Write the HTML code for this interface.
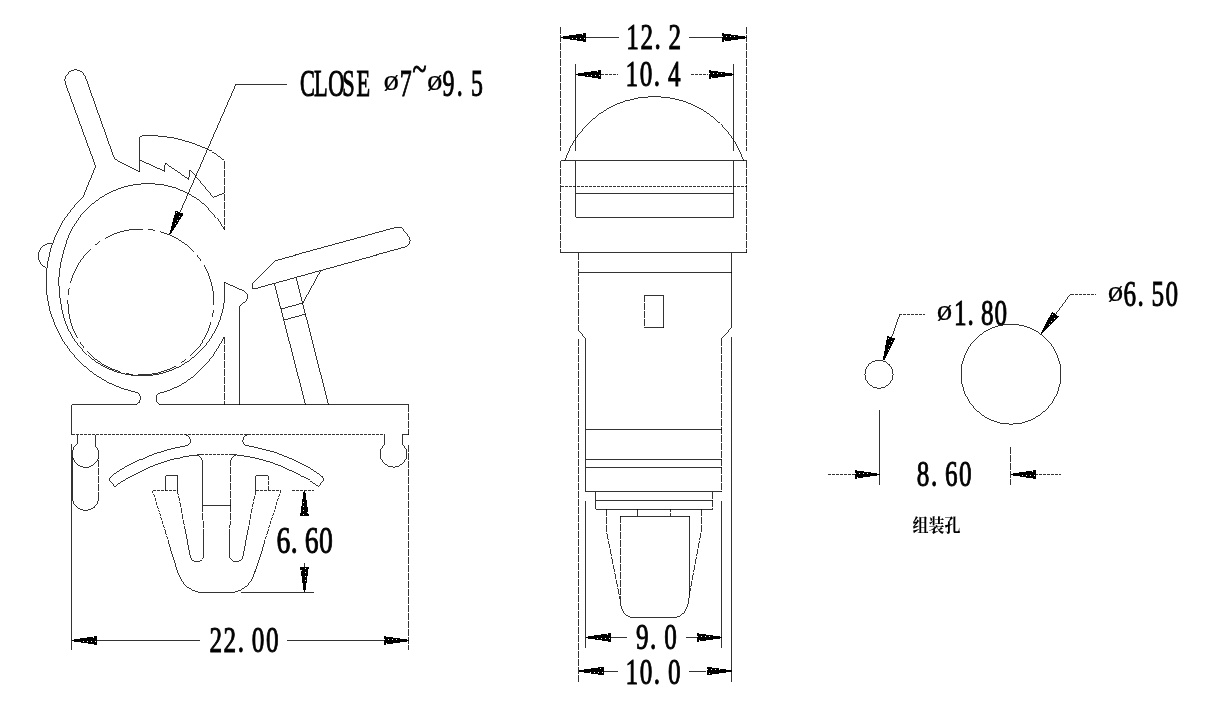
<!DOCTYPE html>
<html><head><meta charset="utf-8"><title>drawing</title>
<style>
html,body{margin:0;padding:0;background:#fff}
svg{display:block}
path,circle{fill:none;stroke:#000;stroke-width:.8}
path.a{fill:#000;stroke:none}
.w{fill:#fff;stroke:none}
.t{font-family:"Liberation Serif",serif;fill:#000;stroke:#000;stroke-width:.85px;vector-effect:non-scaling-stroke}
.p{stroke-width:.2px}
.c{font-family:"Noto Serif CJK SC","Noto Sans CJK SC",serif;font-weight:700;fill:#000}
</style></head><body>
<svg style="filter:grayscale(1)" width="1215" height="711" viewBox="0 0 1215 711" shape-rendering="crispEdges">
<rect width="1215" height="711" fill="#fff" stroke="none"/>
<path d="M71.5 404.5L136.5 404.5"/>
<path d="M159.3 404.5L408.9 404.5"/>
<path d="M71.5 404.5L71.5 434.6"/>
<path d="M71.5 434.5L384.7 434.5" stroke-dasharray="3 1"/>
<path d="M402.4 434.5L408.9 434.5"/>
<path d="M408.5 404.5L408.5 435" stroke-dasharray="7 1"/>
<path d="M408.5 444.5L408.5 650" stroke-dasharray="7 1"/>
<path d="M71.5 444L71.5 650"/>
<path d="M137 392.6Q140.5 393.3 140 398.5Q139.8 403.5 136.3 404.5"/>
<path d="M159.5 404.5Q155.5 402.5 156 398.3Q156.5 394.3 158.5 393.3"/>
<path d="M83 197.1A113.88 113.88 0 0 0 137 392.6"/>
<path d="M51.9 243.6A12.5 12.5 0 0 0 46.4 267.8"/>
<path d="M83 197.1L95.6 166.3L65.5 83.9A10.5 10.5 0 0 1 85.3 76.7L113.4 156Q114.3 158.9 116.8 160.2L139.5 171.6L139.5 136.5"/>
<path d="M139.5 136.5L143.4 135.5"/>
<path d="M143.4 135.5C145.83 135.58 152.88 135.57 158 136C163.12 136.43 168.6 136.98 174.1 138.1C179.6 139.22 185.57 140.9 191 142.7C196.43 144.5 202.53 146.97 206.7 148.9C210.87 150.83 213.17 152.45 216 154.3C218.83 156.15 222.28 158.8 223.7 160C225.12 161.2 224.37 161.25 224.5 161.5"/>
<path d="M224.5 161.5L224.5 229.5" stroke-dasharray="7 1"/>
<path d="M139.5 160.3L164.4 171.6L165.2 163L188.6 179.3L190.1 169.6L213.3 197.3L224.5 192.9"/>
<path d="M224.5 229.5L224.46 229.52A86.41 86.41 0 0 0 63.8 250.81A108.45 108.45 0 0 0 61.57 307.79A81.28 81.28 0 0 0 198.3 353A84.41 84.41 0 0 0 224.4 282.3"/>
<path d="M158.5 393.3C160.1 392.88 164.02 392.4 168.1 390.8C172.18 389.2 179.1 385.93 183 383.7C186.9 381.47 188.67 379.62 191.5 377.4C194.33 375.18 196.55 373.85 200 370.4C203.45 366.95 208.13 362.32 212.2 356.7C216.27 351.08 222.37 340.03 224.4 336.7"/>
<path d="M224.5 336.7L224.5 404.5" stroke-dasharray="7 1"/>
<path d="M224.4 282.3L243 290.6Q248.5 293.5 247.4 298Q246.3 302 243 303.3Q239.5 304.8 239.5 308L239.5 404.5"/>
<circle cx="140.9" cy="302" r="73" stroke-dasharray="40 5 7 5" stroke-dashoffset="36.5"/>
<path d="M254.5 288.6L252 288.4L252 284.3L275.5 260.4L393 228.2Q400.5 226 402.8 229L408.9 236.7Q412.5 243.5 405.9 246.7Z"/>
<path d="M274.6 283.5L305.7 404.5"/>
<path d="M296.2 278L328.4 404.5"/>
<path d="M281.2 309L302.9 303"/>
<path d="M284.4 320L305.6 314"/>
<path d="M320.7 270.6L302.9 302.8"/>
<path d="M77.5 434.6L77.5 443.3Q72.5 447 72.5 452L72.5 498A13.05 12.5 0 0 0 98.6 498"/>
<path d="M95.5 434.6L95.5 446Q98.6 448 98.6 452"/>
<path d="M98.5 452L98.5 498" stroke-dasharray="7 1"/>
<path d="M72.8 457.4A13.2 13.2 0 0 0 98.3 458"/>
<path d="M384.5 434.6L384.5 443.5A13.5 13.5 0 1 0 402.5 443.5L402.5 434.6"/>
<path d="M185.2 434.6C185.97 435.17 189.18 436.33 189.8 438C190.42 439.67 190.78 443.08 188.9 444.6C187.02 446.12 182.7 446.03 178.5 447.1C174.3 448.17 168.63 449.52 163.7 451C158.77 452.48 153.83 454.1 148.9 456C143.97 457.9 139.03 459.97 134.1 462.4C129.17 464.83 123.25 468.13 119.3 470.6C115.35 473.07 111.88 476.1 110.4 477.2"/>
<path d="M110.4 477.2L109.4 479.8L114.8 486.6"/>
<path d="M114.8 486.6C116.78 485.28 121.02 481.87 126.7 478.7C132.38 475.53 142.73 470.38 148.9 467.6C155.07 464.82 158.77 463.6 163.7 462C168.63 460.4 173.57 459.1 178.5 458C183.43 456.9 189.55 455.95 193.3 455.4C197.05 454.85 199.72 454.82 201 454.7"/>
<path d="M248 434.6C247.23 435.17 244.02 436.33 243.4 438C242.78 439.67 242.42 443.08 244.3 444.6C246.18 446.12 250.5 446.03 254.7 447.1C258.9 448.17 264.57 449.52 269.5 451C274.43 452.48 279.37 454.1 284.3 456C289.23 457.9 294.17 459.97 299.1 462.4C304.03 464.83 309.95 468.13 313.9 470.6C317.85 473.07 321.32 476.1 322.8 477.2"/>
<path d="M322.8 477.2L323.8 479.8L318.4 486.6"/>
<path d="M318.4 486.6C316.42 485.28 312.18 481.87 306.5 478.7C300.82 475.53 290.47 470.38 284.3 467.6C278.13 464.82 274.43 463.6 269.5 462C264.57 460.4 259.63 459.1 254.7 458C249.77 456.9 243.65 455.95 239.9 455.4C236.15 454.85 233.48 454.82 232.2 454.7"/>
<path d="M201 454.5L232.2 454.5" stroke-dasharray="3 1"/>
<path d="M197 455.3Q202 456.5 202.5 462L202.5 505.5L230.5 505.5"/>
<path d="M230.5 505.5L230.5 462" stroke-dasharray="7 1"/>
<path d="M230.5 462Q231.2 456.5 236.2 455.3"/>
<path d="M177.6 490.5L185.2 530" stroke-dasharray="5 1"/>
<path d="M202.5 505.5L203.3 530" stroke-dasharray="7 1"/>
<path d="M203.3 530L204 554A7 7.5 0 0 1 190 555L185.2 530"/>
<path d="M255.6 490.5L248 530" stroke-dasharray="5 1"/>
<path d="M230.5 505.5L229.9 530" stroke-dasharray="7 1"/>
<path d="M229.9 530L229.2 554A7 7.5 0 0 0 243.2 555L248 530"/>
<path d="M152.5 490.5L168.2 540.5" stroke-dasharray="3 1"/>
<path d="M280.7 490.5L264.9 540.5" stroke-dasharray="3 1"/>
<path d="M168.2 540.5L178.9 574.8Q183.5 589 199.6 592.5L233.7 592.5Q249.7 589 254.4 573.3L264.9 540.5"/>
<path d="M152.5 490.5L177.6 490.5" stroke-dasharray="3 1"/>
<path d="M255.6 490.5L280.7 490.5" stroke-dasharray="3 1"/>
<path d="M165.5 490.5L165.5 475.5L177.5 475.5L177.5 490.5"/>
<path d="M255.5 490.5L255.5 475.5L268.2 475.5"/>
<path d="M268.5 475.5L268.5 490.5" stroke-dasharray="4 1"/>
<path d="M291.5 490.5L313.8 490.5" stroke-dasharray="3 1"/>
<path d="M241 592.5L313.8 592.5"/>
<path class="a" d="M305.2 490.5L308.8 515.5L300.2 515.5L303.8 490.5Z"/>
<path d="M304.5 515.5L304.5 490.5"/>
<rect class="w" x="303" y="502" width="1" height="1"/>
<rect class="w" x="303" y="506" width="1" height="1"/>
<rect class="w" x="303" y="510" width="1" height="1"/>
<rect class="w" x="303" y="514" width="1" height="1"/>
<rect class="w" x="307" y="512" width="1" height="1"/>
<path class="a" d="M303.8 592.4L300.2 567.4L308.8 567.4L305.2 592.4Z"/>
<path d="M304.5 567.4L304.5 592.4"/>
<rect class="w" x="305" y="580" width="1" height="1"/>
<rect class="w" x="305" y="576" width="1" height="1"/>
<rect class="w" x="305" y="572" width="1" height="1"/>
<rect class="w" x="305" y="568" width="1" height="1"/>
<rect class="w" x="301" y="570" width="1" height="1"/>
<path d="M304.5 563L304.5 568"/>
<text class="t" transform="translate(276.6 552.8) scale(0.72 1)" font-size="38.5" x="0 19.58 39.17 58.75" y="0">6.60</text>
<path d="M96 640.5L200.3 640.5"/>
<path d="M287 640.5L383.5 640.5"/>
<path class="a" d="M71.5 639.8L96.5 636.2L96.5 644.8L71.5 641.2Z"/>
<path d="M96.5 640.5L71.5 640.5"/>
<rect class="w" x="83" y="641" width="1" height="1"/>
<rect class="w" x="87" y="641" width="1" height="1"/>
<rect class="w" x="91" y="641" width="1" height="1"/>
<rect class="w" x="95" y="641" width="1" height="1"/>
<rect class="w" x="93" y="637" width="1" height="1"/>
<path class="a" d="M408.9 641.2L383.9 644.8L383.9 636.2L408.9 639.8Z"/>
<path d="M383.9 640.5L408.9 640.5"/>
<rect class="w" x="396" y="639" width="1" height="1"/>
<rect class="w" x="392" y="639" width="1" height="1"/>
<rect class="w" x="388" y="639" width="1" height="1"/>
<rect class="w" x="384" y="639" width="1" height="1"/>
<rect class="w" x="386" y="643" width="1" height="1"/>
<text class="t" transform="translate(209.5 652) scale(0.69 1)" font-size="36.5" x="0 20.43 40.87 61.3 81.74" y="0">22.00</text>
<path d="M235.4 84.5L286.5 84.5"/>
<path class="a" d="M169.36 233.92L175.67 210.49L183.55 213.93L170.64 234.48Z"/>
<path d="M179.61 212.21L170 234.2"/>
<rect class="w" x="175" y="223" width="1" height="1"/>
<rect class="w" x="177" y="220" width="1" height="1"/>
<rect class="w" x="179" y="216" width="1" height="1"/>
<rect class="w" x="176" y="212" width="1" height="1"/>
<path d="M235.4 84.5L179.61 212.21"/>
<text class="t" transform="translate(299.9 96.2) scale(0.58 1)" font-size="38.5" x="0 24.38 48.75 73.13 97.5" y="0">CLOSE</text>
<text class="t p" transform="translate(383.6 90.3) scale(1.07 1)" font-size="29" x="0" y="0">ø</text>
<text class="t" transform="translate(399.72 96.2) scale(0.62 1)" font-size="38.5" x="0" y="0">7</text>
<text class="t" transform="translate(412.5 81) scale(0.72 1)" font-size="36" x="0" y="0">~</text>
<text class="t p" transform="translate(427 90.3) scale(1.07 1)" font-size="29" x="0" y="0">ø</text>
<text class="t" transform="translate(442.5 96.2) scale(0.62 1)" font-size="38.5" x="0 23 46" y="0">9.5</text>
<path d="M560.5 27L560.5 150.5" stroke-dasharray="7 1"/>
<path d="M746.5 27L746.5 150.5" stroke-dasharray="7 1"/>
<path d="M560.5 160.5L560.5 252.5" stroke-dasharray="7 1"/>
<path d="M746.5 160.5L746.5 252.5" stroke-dasharray="7 1"/>
<path d="M575.5 64L575.5 150.5"/>
<path d="M733.5 64L733.5 150.5"/>
<path d="M575.5 160.5L575.5 217.3"/>
<path d="M733.5 160.5L733.5 217.3"/>
<path d="M560.5 160.5L746.9 160.5"/>
<path d="M560.5 186.5L746.9 186.5" stroke-dasharray="3 1"/>
<path d="M575.5 193.5L733.7 193.5"/>
<path d="M575.5 217.5L733.7 217.5"/>
<path d="M560.5 252.5L746.9 252.5"/>
<path d="M564.9 160.5A94.3 94.3 0 0 1 743.5 160.5"/>
<path d="M585.5 37.5L618.8 37.5"/>
<path d="M689.4 37.5L722 37.5"/>
<path class="a" d="M560.5 36.8L585.5 33.2L585.5 41.8L560.5 38.2Z"/>
<path d="M585.5 37.5L560.5 37.5"/>
<rect class="w" x="572" y="38" width="1" height="1"/>
<rect class="w" x="576" y="38" width="1" height="1"/>
<rect class="w" x="580" y="38" width="1" height="1"/>
<rect class="w" x="584" y="38" width="1" height="1"/>
<rect class="w" x="582" y="34" width="1" height="1"/>
<path class="a" d="M746.9 38.2L721.9 41.8L721.9 33.2L746.9 36.8Z"/>
<path d="M721.9 37.5L746.9 37.5"/>
<rect class="w" x="734" y="36" width="1" height="1"/>
<rect class="w" x="730" y="36" width="1" height="1"/>
<rect class="w" x="726" y="36" width="1" height="1"/>
<rect class="w" x="722" y="36" width="1" height="1"/>
<rect class="w" x="724" y="40" width="1" height="1"/>
<text class="t" transform="translate(626.3 49) scale(0.69 1)" font-size="36.5" x="0 20.43 40.87 61.3" y="0">12.2</text>
<path d="M600.7 74.5L617.9 74.5" stroke-dasharray="3 1"/>
<path d="M691.2 74.5L708.4 74.5" stroke-dasharray="3 1"/>
<path class="a" d="M575.5 73.8L600.5 70.2L600.5 78.8L575.5 75.2Z"/>
<path d="M600.5 74.5L575.5 74.5"/>
<rect class="w" x="587" y="75" width="1" height="1"/>
<rect class="w" x="591" y="75" width="1" height="1"/>
<rect class="w" x="595" y="75" width="1" height="1"/>
<rect class="w" x="599" y="75" width="1" height="1"/>
<rect class="w" x="597" y="71" width="1" height="1"/>
<path class="a" d="M733.7 75.2L708.7 78.8L708.7 70.2L733.7 73.8Z"/>
<path d="M708.7 74.5L733.7 74.5"/>
<rect class="w" x="721" y="73" width="1" height="1"/>
<rect class="w" x="717" y="73" width="1" height="1"/>
<rect class="w" x="713" y="73" width="1" height="1"/>
<rect class="w" x="709" y="73" width="1" height="1"/>
<rect class="w" x="711" y="77" width="1" height="1"/>
<text class="t" transform="translate(625.6 86.2) scale(0.69 1)" font-size="36.5" x="0 20.43 40.87 61.3" y="0">10.4</text>
<path d="M578.5 252.5L578.5 330" stroke-dasharray="7 1"/>
<path d="M731.5 252.5L731.5 327.6"/>
<path d="M578.5 272.5L731.5 272.5"/>
<path d="M644.5 295.5L663.5 295.5L663.5 327.5L644.5 327.5"/>
<path d="M644.5 295.3L644.5 327.7" stroke-dasharray="7 1"/>
<path d="M578.5 330L585.5 338.8"/>
<path d="M731.5 327.6L721.7 338.8"/>
<path d="M585.5 338.8L585.5 491.5"/>
<path d="M721.5 338.8L721.5 491.5" stroke-dasharray="7 1"/>
<path d="M578.5 339L578.5 682" stroke-dasharray="7 1"/>
<path d="M731.5 337L731.5 682"/>
<path d="M585.5 429.5L721.7 429.5"/>
<path d="M585.5 459.5L721.7 459.5"/>
<path d="M585.5 467.5L721.7 467.5"/>
<path d="M585.5 491.5L721.7 491.5"/>
<path d="M595.5 491.5L595.5 509.4"/>
<path d="M712.5 491.5L712.5 509.4" stroke-dasharray="7 1"/>
<path d="M595.6 500.5L712.5 500.5"/>
<path d="M595.6 509.5L712.5 509.5"/>
<path d="M585.5 501L585.5 647.5"/>
<path d="M721.5 501L721.5 647.5"/>
<path d="M637.5 509.4L637.5 516"/>
<path d="M670.5 509.4L670.5 516" stroke-dasharray="3 1"/>
<path d="M620.4 516.5L689.8 516.5"/>
<path d="M606.5 509.4L606.5 531.4L620 599.3" stroke-dasharray="7 1"/>
<path d="M701.5 509.4L701.5 530L689.1 596" stroke-dasharray="7 1"/>
<path d="M620.5 516L620.5 599" stroke-dasharray="7 1"/>
<path d="M689.5 516L689.5 590Q689.5 598 688.2 603Q685.5 615.5 676 617.5L631.4 617.5Q623.5 615.5 621.2 607Q620.4 603 620.3 599"/>
<path d="M610.6 637.5L626.7 637.5"/>
<path d="M685.9 637.5L696.5 637.5"/>
<path class="a" d="M585.5 636.8L610.5 633.2L610.5 641.8L585.5 638.2Z"/>
<path d="M610.5 637.5L585.5 637.5"/>
<rect class="w" x="597" y="638" width="1" height="1"/>
<rect class="w" x="601" y="638" width="1" height="1"/>
<rect class="w" x="605" y="638" width="1" height="1"/>
<rect class="w" x="609" y="638" width="1" height="1"/>
<rect class="w" x="607" y="634" width="1" height="1"/>
<path class="a" d="M721.7 638.2L696.7 641.8L696.7 633.2L721.7 636.8Z"/>
<path d="M696.7 637.5L721.7 637.5"/>
<rect class="w" x="709" y="636" width="1" height="1"/>
<rect class="w" x="705" y="636" width="1" height="1"/>
<rect class="w" x="701" y="636" width="1" height="1"/>
<rect class="w" x="697" y="636" width="1" height="1"/>
<rect class="w" x="699" y="640" width="1" height="1"/>
<text class="t" transform="translate(636 649.1) scale(0.69 1)" font-size="36.5" x="0 20.43 40.87" y="0">9.0</text>
<path d="M603.5 671.5L617.5 671.5"/>
<path d="M689.1 671.5L706.4 671.5"/>
<path class="a" d="M578.5 670.3L603.5 666.7L603.5 675.3L578.5 671.7Z"/>
<path d="M603.5 671.5L578.5 671.5"/>
<rect class="w" x="590" y="672" width="1" height="1"/>
<rect class="w" x="594" y="672" width="1" height="1"/>
<rect class="w" x="598" y="672" width="1" height="1"/>
<rect class="w" x="602" y="672" width="1" height="1"/>
<rect class="w" x="600" y="668" width="1" height="1"/>
<path class="a" d="M731.5 671.7L706.5 675.3L706.5 666.7L731.5 670.3Z"/>
<path d="M706.5 671.5L731.5 671.5"/>
<rect class="w" x="719" y="669" width="1" height="1"/>
<rect class="w" x="715" y="669" width="1" height="1"/>
<rect class="w" x="711" y="669" width="1" height="1"/>
<rect class="w" x="707" y="669" width="1" height="1"/>
<rect class="w" x="709" y="673" width="1" height="1"/>
<text class="t" transform="translate(625.6 683.6) scale(0.69 1)" font-size="36.5" x="0 20.43 40.87 61.3" y="0">10.0</text>
<circle cx="879" cy="374.3" r="14.1"/>
<circle cx="1011" cy="374.2" r="50"/>
<path class="a" d="M882.84 359.77L887.28 335.91L895.4 338.72L884.16 360.23Z"/>
<path d="M891.34 337.32L883.5 360"/>
<rect class="w" x="888" y="349" width="1" height="1"/>
<rect class="w" x="889" y="345" width="1" height="1"/>
<rect class="w" x="891" y="341" width="1" height="1"/>
<rect class="w" x="888" y="338" width="1" height="1"/>
<path d="M891.34 337.32L899.4 314.5"/>
<path d="M899.4 314.5L925.1 314.5" stroke-dasharray="3 1"/>
<text class="t p" transform="translate(936.8 319.8) scale(1.07 1)" font-size="29" x="0" y="0">ø</text>
<text class="t" transform="translate(954.1 325.3) scale(0.69 1)" font-size="36.5" x="0 19.57 39.13 58.7" y="0">1.80</text>
<path class="a" d="M1040.64 333.28L1052.18 311.6L1059.1 316.71L1041.76 334.12Z"/>
<path d="M1055.64 314.15L1041.2 333.7"/>
<rect class="w" x="1049" y="324" width="1" height="1"/>
<rect class="w" x="1051" y="321" width="1" height="1"/>
<rect class="w" x="1054" y="318" width="1" height="1"/>
<rect class="w" x="1052" y="314" width="1" height="1"/>
<path d="M1055.64 314.15L1070.6 294"/>
<path d="M1070.6 294.5L1095.9 294.5" stroke-dasharray="3 1"/>
<text class="t p" transform="translate(1107.8 300.8) scale(1.07 1)" font-size="29" x="0" y="0">ø</text>
<text class="t" transform="translate(1123.6 306.3) scale(0.69 1)" font-size="36.5" x="0 20.29 40.58 60.87" y="0">6.50</text>
<path d="M879.5 410.4L879.5 484.6"/>
<path d="M1010.5 447L1010.5 484.6" stroke-dasharray="7 1"/>
<path d="M828.3 474.5L854.5 474.5" stroke-dasharray="3 1"/>
<path d="M1035.4 474.5L1060.7 474.5" stroke-dasharray="3 1"/>
<path class="a" d="M879.5 475.2L854.5 478.8L854.5 470.2L879.5 473.8Z"/>
<path d="M854.5 474.5L879.5 474.5"/>
<rect class="w" x="867" y="473" width="1" height="1"/>
<rect class="w" x="863" y="473" width="1" height="1"/>
<rect class="w" x="859" y="473" width="1" height="1"/>
<rect class="w" x="855" y="473" width="1" height="1"/>
<rect class="w" x="857" y="477" width="1" height="1"/>
<path class="a" d="M1010.5 473.8L1035.5 470.2L1035.5 478.8L1010.5 475.2Z"/>
<path d="M1035.5 474.5L1010.5 474.5"/>
<rect class="w" x="1022" y="475" width="1" height="1"/>
<rect class="w" x="1026" y="475" width="1" height="1"/>
<rect class="w" x="1030" y="475" width="1" height="1"/>
<rect class="w" x="1034" y="475" width="1" height="1"/>
<rect class="w" x="1032" y="471" width="1" height="1"/>
<text class="t" transform="translate(916.8 485.9) scale(0.69 1)" font-size="36.5" x="0 20.43 40.87 61.3" y="0">8.60</text>
<text class="c" transform="translate(912.6 531.8) scale(0.86 1)" font-size="18.6">组装孔</text>
</svg></body></html>
